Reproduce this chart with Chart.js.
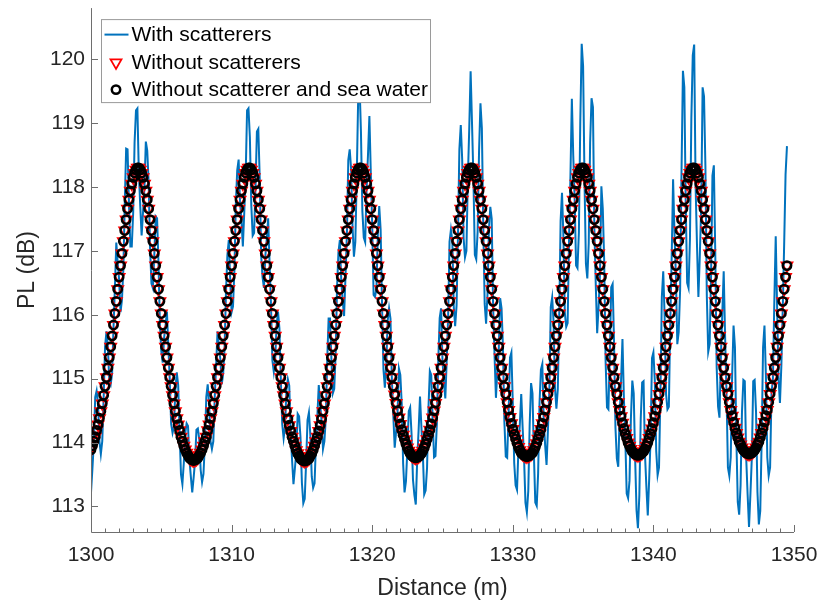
<!DOCTYPE html>
<html>
<head>
<meta charset="utf-8">
<script src="https://cdn.jsdelivr.net/npm/chart.js"></script>
<style>
  html, body { margin: 0; padding: 0; background: #fff; }
  #plChart { display: block; }
</style>
</head>
<body>
<canvas id="plChart" width="831" height="607"></canvas>
<script>
// distance grid of the samples (m)
const distanceStart = 1300;
const distanceStep = 0.1;

const xTicks = [1300, 1310, 1320, 1330, 1340, 1350];
const yTicks = [113, 114, 115, 116, 117, 118, 119, 120];

const seriesNames = ['With scatterers', 'Without scatterers', 'Without scatterer and sea water'];

// PL (dB), one value per 0.1 m
const plWithScatterers = [
  113.22,113.59,113.99,114.71,114.81,114.61,114.02,113.82,114.02,114.71,
  115.50,115.74,115.50,114.97,114.91,115.08,115.80,116.43,117.13,116.81,
  116.55,116.04,116.23,116.70,117.73,118.60,118.59,117.74,117.07,117.07,
  117.60,118.70,119.20,119.23,
  118.24,117.72,117.24,117.60,117.99,118.71,118.57,118.07,117.04,116.49,
  116.42,116.92,117.54,117.51,116.81,115.85,115.43,115.25,115.64,115.83,
  116.05,115.50,114.99,114.29,114.15,114.25,114.82,115.10,114.90,114.16,
  113.50,113.35,113.68,114.14,114.30,114.26,113.74,113.47,113.22,
  113.45,113.71,114.20,114.22,114.05,113.57,113.38,113.51,113.99,114.71,
  114.91,114.61,114.02,113.90,114.02,114.71,115.21,115.74,115.50,115.30,
  114.91,115.08,115.48,116.35,116.93,117.17,116.55,116.04,116.13,116.70,
  117.73,118.26,118.43,117.76,117.49,117.07,117.60,118.16,119.20,119.23,
  118.78,117.72,117.24,117.28,117.99,118.87,118.91,118.14,116.94,116.59,
  116.42,116.92,117.18,117.51,116.81,116.17,115.29,115.11,115.31,115.83,
  116.05,115.79,114.99,114.29,114.07,114.25,114.82,114.99,114.89,114.15,
  113.73,113.35,113.59,113.85,114.45,114.41,114.08,113.37,113.05,
  113.12,113.69,114.35,114.47,114.12,113.47,113.29,113.36,113.99,114.42,
  114.90,114.60,114.34,113.90,114.02,114.38,115.29,115.94,115.94,115.29,
  114.77,114.84,115.39,116.43,116.98,117.17,116.53,116.22,115.98,116.60,
  117.26,118.42,118.59,118.28,117.39,116.91,117.14,118.14,119.37,119.61,
  118.86,117.63,117.21,117.14,117.97,118.50,119.11,118.22,117.41,116.31,
  116.28,116.41,117.25,117.70,117.33,116.15,115.15,114.86,115.22,115.91,
  116.10,115.94,114.98,114.43,113.92,114.17,114.46,115.16,115.06,114.61,
  113.67,113.22,113.39,113.89,114.49,114.55,114.13,113.42,113.18,
  113.03,113.73,114.19,114.72,114.24,113.83,113.19,113.25,113.60,114.53,
  115.12,115.06,114.35,113.77,113.79,114.30,115.29,115.95,116.10,115.27,
  114.95,114.69,115.29,115.96,117.14,117.33,117.15,116.13,115.82,116.14,
  117.24,118.59,118.97,118.43,117.20,116.90,117.00,118.11,118.90,119.81,
  118.99,118.13,116.94,116.87,117.31,118.57,119.31,118.92,117.38,116.17,
  115.86,116.32,117.33,117.69,117.50,116.13,115.38,114.70,115.12,115.44,
  116.26,116.10,115.50,114.33,113.78,113.76,114.45,115.33,115.41,114.62,
  113.68,113.33,113.26,113.89,114.29,114.76,114.23,113.76,113.06,
  112.91,113.24,114.28,114.93,114.77,113.82,113.06,113.01,113.51,114.61,
  115.14,115.23,114.34,113.96,113.65,114.21,114.80,116.12,116.27,115.89,
  114.86,114.53,114.83,115.94,117.47,117.91,117.22,116.03,115.81,115.87,
  117.18,118.18,119.38,118.49,117.80,116.77,116.73,117.29,119.03,120.24,
  119.89,118.10,116.80,116.57,117.12,118.70,119.39,119.25,117.35,116.48,
  115.71,116.12,116.63,118.01,117.66,116.84,115.28,114.55,114.52,115.39,
  116.43,116.48,115.58,114.24,113.75,113.62,114.43,114.97,115.62,114.70,
  114.08,113.20,113.13,113.40,114.38,114.97,114.77,113.76,112.94,
  112.66,113.17,114.38,114.94,114.96,113.82,113.31,112.86,113.43,114.06,
  115.32,115.41,114.97,113.87,113.49,113.61,114.77,116.28,116.68,115.96,
  114.76,114.52,114.56,115.88,116.90,118.12,117.28,116.60,115.54,115.73,
  116.39,118.25,119.82,119.56,117.73,116.50,116.42,117.19,119.09,120.06,
  120.23,118.03,117.09,116.28,116.92,117.70,119.56,119.42,118.31,116.29,
  115.42,115.54,116.60,118.18,118.34,116.97,115.18,114.56,114.39,115.36,
  116.02,116.68,115.65,114.77,113.61,113.48,113.77,115.05,115.83,115.49,
  114.07,113.07,112.87,113.33,114.48,114.98,114.96,113.76,113.19,
  112.68,113.19,113.76,114.96,114.98,114.48,113.23,112.72,112.93,114.04,
  115.49,115.83,115.05,113.77,113.48,113.61,114.77,115.00,116.20,117.23,
  116.10,115.00,114.62,115.20,116.10,117.10,118.20,118.64
];

const plWithoutScatterers = [
  113.89,113.95,114.02,114.09,114.19,114.28,114.38,114.49,114.61,114.74,
  114.88,115.02,115.17,115.33,115.50,115.67,115.84,116.02,116.21,116.40,
  116.59,116.77,116.96,117.15,117.32,117.49,117.66,117.80,117.94,118.05,
  118.15,118.22,118.27,118.30,
  118.30,118.27,118.22,118.15,118.05,117.94,117.80,117.66,117.49,117.32,
  117.15,116.96,116.77,116.59,116.40,116.21,116.02,115.84,115.67,115.50,
  115.33,115.17,115.02,114.88,114.74,114.61,114.49,114.38,114.28,114.19,
  114.09,114.02,113.95,113.89,113.84,113.80,113.76,113.74,113.73,
  113.72,113.73,113.74,113.76,113.80,113.84,113.89,113.95,114.02,114.09,
  114.19,114.28,114.38,114.49,114.61,114.74,114.88,115.02,115.17,115.33,
  115.50,115.67,115.84,116.02,116.21,116.40,116.59,116.77,116.96,117.15,
  117.32,117.49,117.66,117.80,117.94,118.05,118.15,118.22,118.27,118.30,
  118.30,118.27,118.22,118.15,118.05,117.94,117.80,117.66,117.49,117.32,
  117.15,116.96,116.77,116.59,116.40,116.21,116.02,115.84,115.67,115.50,
  115.33,115.17,115.02,114.88,114.74,114.61,114.49,114.37,114.27,114.18,
  114.09,114.02,113.95,113.88,113.83,113.79,113.75,113.73,113.72,
  113.71,113.72,113.73,113.75,113.79,113.83,113.88,113.95,114.02,114.09,
  114.18,114.27,114.37,114.49,114.61,114.74,114.88,115.02,115.17,115.33,
  115.50,115.67,115.84,116.02,116.21,116.40,116.59,116.77,116.96,117.15,
  117.32,117.49,117.66,117.80,117.94,118.05,118.15,118.22,118.27,118.30,
  118.30,118.27,118.22,118.15,118.05,117.94,117.80,117.66,117.49,117.32,
  117.15,116.96,116.77,116.59,116.40,116.21,116.02,115.84,115.67,115.50,
  115.33,115.17,115.02,114.88,114.75,114.62,114.50,114.39,114.29,114.20,
  114.12,114.05,113.98,113.92,113.87,113.83,113.80,113.78,113.77,
  113.76,113.77,113.78,113.80,113.83,113.87,113.92,113.98,114.05,114.12,
  114.20,114.29,114.39,114.50,114.62,114.75,114.88,115.02,115.17,115.33,
  115.50,115.67,115.84,116.02,116.21,116.40,116.59,116.77,116.96,117.15,
  117.32,117.49,117.66,117.80,117.94,118.05,118.15,118.22,118.27,118.30,
  118.30,118.27,118.22,118.15,118.05,117.94,117.80,117.66,117.49,117.32,
  117.15,116.96,116.77,116.59,116.40,116.21,116.02,115.84,115.67,115.50,
  115.33,115.17,115.02,114.88,114.76,114.63,114.51,114.40,114.30,114.21,
  114.13,114.06,113.99,113.93,113.88,113.84,113.82,113.80,113.79,
  113.78,113.79,113.80,113.82,113.84,113.88,113.93,113.99,114.06,114.13,
  114.21,114.30,114.40,114.51,114.63,114.76,114.88,115.02,115.17,115.33,
  115.50,115.67,115.84,116.02,116.21,116.40,116.59,116.77,116.96,117.15,
  117.32,117.49,117.66,117.80,117.94,118.05,118.15,118.22,118.27,118.30,
  118.30,118.27,118.22,118.15,118.05,117.94,117.80,117.66,117.49,117.32,
  117.15,116.96,116.77,116.59,116.40,116.21,116.02,115.84,115.67,115.50,
  115.33,115.17,115.02,114.88,114.76,114.63,114.51,114.41,114.31,114.22,
  114.14,114.07,114.00,113.95,113.90,113.86,113.84,113.82,113.81,
  113.80,113.81,113.82,113.84,113.86,113.90,113.95,114.00,114.07,114.14,
  114.22,114.31,114.41,114.51,114.63,114.76,114.88,115.02,115.17,115.33,
  115.50,115.67,115.84,116.02,116.21,116.40,116.59,116.77,116.96,117.15,
  117.32,117.49,117.66,117.80,117.94,118.05,118.15,118.22,118.27,118.30,
  118.30,118.27,118.22,118.15,118.05,117.94,117.80,117.66,117.49,117.32,
  117.15,116.96,116.77,116.59,116.40,116.21,116.02,115.84,115.67,115.50,
  115.33,115.17,115.02,114.88,114.76,114.63,114.51,114.42,114.32,114.23,
  114.15,114.08,114.01,113.97,113.92,113.88,113.86,113.84,113.83,
  113.82,113.83,113.84,113.86,113.88,113.92,113.97,114.01,114.08,114.15,
  114.23,114.32,114.42,114.51,114.63,114.76,114.88,115.02,115.17,115.33,
  115.50,115.67,115.84,116.02,116.21,116.40,116.59,116.77
];

// in the figure the circles sit exactly on the triangles
const plWithoutSeaWater = plWithoutScatterers.slice();

const AXIS_COLOR = '#6e6e6e';
const TEXT_COLOR = '#262626';
const FONT = '"Liberation Sans", Arial, Helvetica, sans-serif';

function toPoints(values) {
  return values.map((v, i) => ({
    x: Math.round((distanceStart + i * distanceStep) * 10) / 10,
    y: v
  }));
}

// inward MATLAB style ticks, axis lines and the boxed legend
const matlabLook = {
  id: 'matlabLook',
  afterDraw(chart) {
    const { ctx, chartArea: a, scales: { x, y } } = chart;
    ctx.save();

    ctx.strokeStyle = AXIS_COLOR;
    ctx.lineWidth = 1;
    ctx.beginPath();
    ctx.moveTo(a.left + 0.5, a.top);
    ctx.lineTo(a.left + 0.5, a.bottom + 0.5);
    ctx.lineTo(a.right, a.bottom + 0.5);
    for (let v = xTicks[0]; v <= xTicks[xTicks.length - 1]; v += 1) {
      const px = Math.round(x.getPixelForValue(v)) + 0.5;
      const len = xTicks.includes(v) ? 7 : 3.5;
      ctx.moveTo(px, a.bottom);
      ctx.lineTo(px, a.bottom - len);
    }
    yTicks.forEach(v => {
      const py = Math.round(y.getPixelForValue(v)) + 0.5;
      ctx.moveTo(a.left, py);
      ctx.lineTo(a.left + 7, py);
    });
    ctx.stroke();

    // legend
    const L = a.left + 10.5, T = a.top + 11.5, W = 329, H = 83;
    ctx.fillStyle = '#ffffff';
    ctx.fillRect(L, T, W, H);
    ctx.strokeStyle = '#9a9a9a';
    ctx.lineWidth = 1;
    ctx.strokeRect(L, T, W, H);

    const rows = [T + 15, T + 43, T + 70];
    const mx = L + 14.5;

    ctx.strokeStyle = '#0072BD';
    ctx.lineWidth = 2;
    ctx.beginPath();
    ctx.moveTo(L + 3, rows[0]);
    ctx.lineTo(L + 27, rows[0]);
    ctx.stroke();

    const r = 6.3;
    ctx.strokeStyle = '#ff0000';
    ctx.lineWidth = 1.8;
    ctx.beginPath();
    ctx.moveTo(mx, rows[1] + r);
    ctx.lineTo(mx - 0.866 * r, rows[1] - 0.5 * r);
    ctx.lineTo(mx + 0.866 * r, rows[1] - 0.5 * r);
    ctx.closePath();
    ctx.stroke();

    ctx.strokeStyle = '#000000';
    ctx.lineWidth = 2.5;
    ctx.beginPath();
    ctx.arc(mx, rows[2], 4.2, 0, Math.PI * 2);
    ctx.stroke();

    ctx.fillStyle = '#000000';
    ctx.font = '21px ' + FONT;
    ctx.textBaseline = 'middle';
    ctx.textAlign = 'left';
    seriesNames.forEach((name, i) => ctx.fillText(name, L + 30, rows[i] + 1));

    ctx.restore();
  }
};

const ctx = document.getElementById('plChart').getContext('2d');
new Chart(ctx, {
  type: 'scatter',
  data: {
    datasets: [
      {
        label: seriesNames[0],
        data: toPoints(plWithScatterers),
        showLine: true,
        borderColor: '#0072BD',
        borderWidth: 2,
        pointRadius: 0,
        tension: 0,
        order: 3
      },
      {
        label: seriesNames[1],
        data: toPoints(plWithoutScatterers),
        showLine: false,
        pointStyle: 'triangle',
        rotation: 180,
        pointRadius: 6.3,
        pointBorderWidth: 1.8,
        borderColor: '#ff0000',
        backgroundColor: 'rgba(0,0,0,0)',
        order: 2
      },
      {
        label: seriesNames[2],
        data: toPoints(plWithoutSeaWater),
        showLine: false,
        pointStyle: 'circle',
        pointRadius: 4.2,
        pointBorderWidth: 2.5,
        borderColor: '#000000',
        backgroundColor: 'rgba(0,0,0,0)',
        order: 1
      }
    ]
  },
  options: {
    responsive: false,
    animation: false,
    events: [],
    layout: { padding: { top: 8, right: 37, left: 0, bottom: 0 } },
    plugins: {
      legend: { display: false },
      tooltip: { enabled: false }
    },
    scales: {
      x: {
        type: 'linear',
        min: 1300,
        max: 1350,
        grid: { display: false, drawTicks: false },
        border: { display: false },
        afterBuildTicks: s => { s.ticks = xTicks.map(v => ({ value: v })); },
        afterFit: s => { s.height = 75; s.paddingLeft = 0; s.paddingRight = 0; },
        ticks: {
          padding: 11,
          maxRotation: 0,
          autoSkip: false,
          color: TEXT_COLOR,
          font: { family: FONT, size: 21 },
          callback: v => String(v)
        },
        title: {
          display: true,
          text: 'Distance (m)',
          color: TEXT_COLOR,
          font: { family: FONT, size: 23 },
          padding: { top: 0, bottom: 5 }
        }
      },
      y: {
        type: 'linear',
        min: 112.6,
        max: 120.8,
        grid: { display: false, drawTicks: false },
        border: { display: false },
        afterBuildTicks: s => { s.ticks = yTicks.map(v => ({ value: v })); },
        afterFit: s => { s.width = 91; s.paddingTop = 0; s.paddingBottom = 0; },
        ticks: {
          padding: 6,
          autoSkip: false,
          color: TEXT_COLOR,
          font: { family: FONT, size: 21 },
          callback: v => String(v)
        },
        title: {
          display: true,
          text: 'PL (dB)',
          color: TEXT_COLOR,
          font: { family: FONT, size: 23 },
          padding: { top: 14, bottom: 0 }
        }
      }
    }
  },
  plugins: [matlabLook]
});
</script>
</body>
</html>
